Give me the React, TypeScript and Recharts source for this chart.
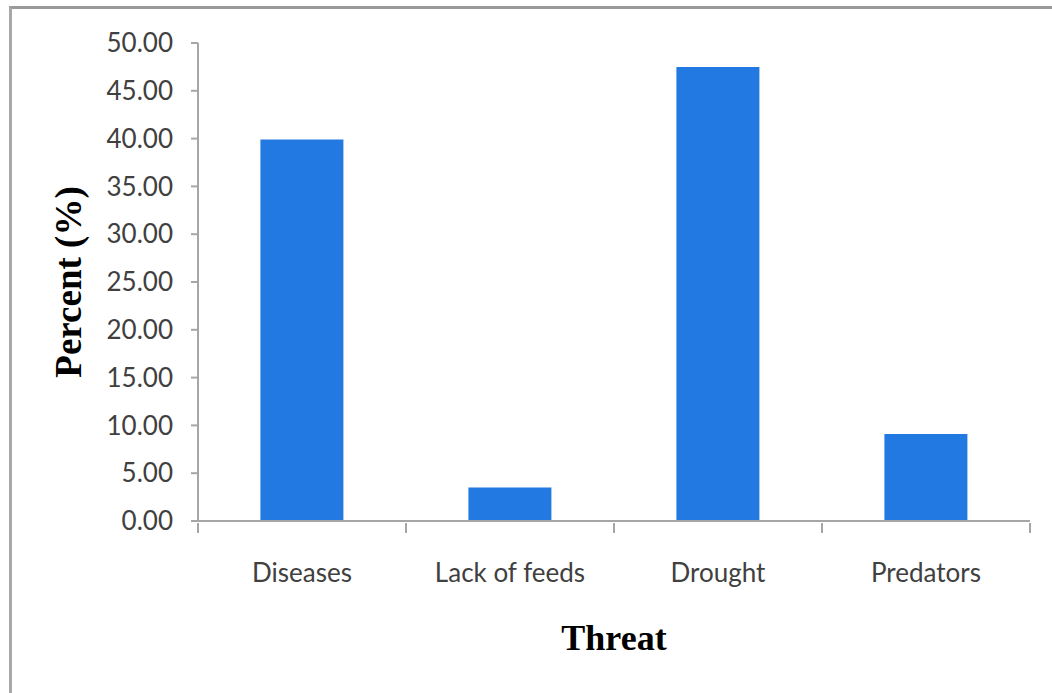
import React from 'react';
import { BarChart, Bar, XAxis, YAxis, Label } from 'recharts';

const threats = ['Diseases', 'Lack of feeds', 'Drought', 'Predators'];
const percents = [39.9, 3.5, 47.5, 9.1];
const yTicks = [0, 5, 10, 15, 20, 25, 30, 35, 40, 45, 50];

const data = threats.map((name, i) => ({ name, value: percents[i] }));

const tickFont = 'Lato, "Open Sans", sans-serif';
const serif = '"Liberation Serif", "Times New Roman", serif';
const axisGrey = '#a6a6a6';

// category label in the middle, tick marks on the band edges (Excel style)
const CategoryTick = (props: any) => {
  const { x, y, payload, index, visibleTicksCount } = props;
  const half = payload && payload.offset ? payload.offset : 0;
  const isLast = index === visibleTicksCount - 1;
  return (
    <g>
      <line x1={x - half} y1={y} x2={x - half} y2={y + 10} stroke={axisGrey} strokeWidth={2} />
      {isLast && <line x1={x + half} y1={y} x2={x + half} y2={y + 10} stroke={axisGrey} strokeWidth={2} />}
      <text
        x={x}
        y={y + 41}
        dy="0.71em"
        textAnchor="middle"
        fontFamily={tickFont}
        fontSize={26}
        fill="#404040"
      >
        {payload.value}
      </text>
    </g>
  );
};

const YTitle = (props: any) => {
  const vb = props.viewBox;
  const cx = vb.x + 48;
  const cy = vb.y + vb.height / 2;
  return (
    <text
      x={cx}
      y={cy}
      transform={`rotate(-90, ${cx}, ${cy})`}
      textAnchor="middle"
      dominantBaseline="central"
      fontFamily={serif}
      fontWeight="bold"
      fontSize={37}
      fill="#000"
    >
      Percent (%)
    </text>
  );
};

export default function App() {
  return (
    <div style={{ position: 'absolute', left: 0, top: 0, width: 1052, height: 693, background: '#fff' }}>
      <div
        style={{
          position: 'absolute',
          left: 9,
          top: 6,
          right: 0,
          bottom: 0,
          borderTop: '3px solid #9a9a9a',
          borderLeft: '3px solid #a8a8a8',
        }}
      />
      <BarChart
        width={1052}
        height={693}
        data={data}
        margin={{ top: 43, right: 22, bottom: 42, left: 20 }}
        barCategoryGap="30%"
        style={{ position: 'absolute', left: 0, top: 0 }}
      >
        <XAxis
          dataKey="name"
          height={130}
          interval={0}
          tickLine={false}
          tickSize={0}
          stroke={axisGrey}
          strokeWidth={2}
          tick={<CategoryTick />}
        >
          <Label
            value="Threat"
            position="insideBottom"
            offset={1}
            style={{ fontFamily: serif, fontWeight: 'bold', fontSize: 36, fill: '#000' }}
          />
        </XAxis>
        <YAxis
          width={178}
          domain={[0, 50]}
          ticks={yTicks}
          interval={0}
          tickFormatter={(v: number) => v.toFixed(2)}
          tickSize={7}
          tickMargin={18}
          stroke={axisGrey}
          strokeWidth={2}
          tick={{ fontFamily: tickFont, fontSize: 26, fill: '#404040' }}
        >
          <Label content={<YTitle />} />
        </YAxis>
        <Bar dataKey="value" fill="#2279e2" isAnimationActive={false} />
      </BarChart>
    </div>
  );
}
